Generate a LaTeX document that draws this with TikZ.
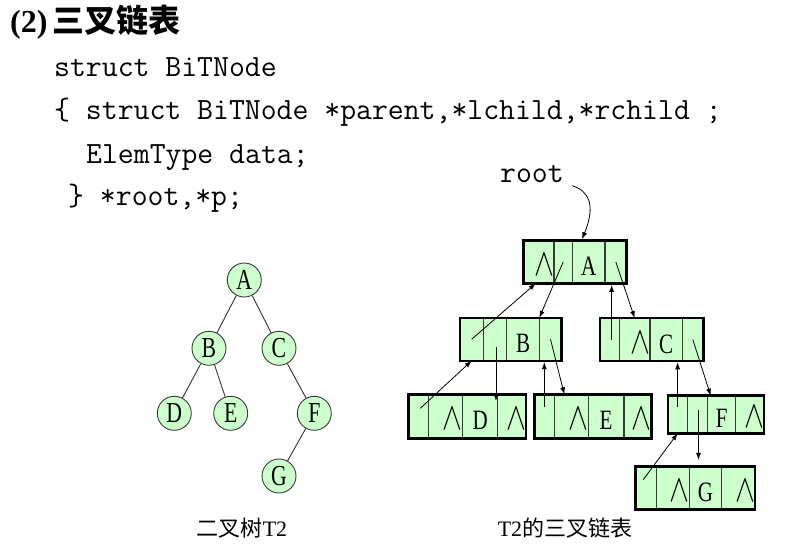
\documentclass[tikz,border=0pt]{standalone}
\usepackage{fontspec}
\usepackage{tikz}
\usetikzlibrary{positioning}
\usetikzlibrary{fit}
\usetikzlibrary{arrows.meta}
\newfontfamily\cjk{Noto Sans CJK SC}
\newfontfamily\serif{Liberation Serif}
\newfontfamily\letterfont[FakeStretch=0.75]{Liberation Serif}
\definecolor{nodegreen}{HTML}{CCFFCC}
\definecolor{divgray}{HTML}{3A3A3A}
\newcommand{\nil}{{\fontsize{24.88}{25}\selectfont\scalebox{1.2}[1.55]{$\wedge$}}}
\tikzset{cell/.style={draw=divgray, line width=1.2pt, fill=nodegreen, inner sep=0, outer sep=0,
    minimum height=43pt, text height=27pt, text depth=0pt, align=center,
    font=\letterfont\fontsize{28}{28}\selectfont}}
\tikzset{cw/.style={minimum width=#1pt, text width=#1pt}}
\tikzset{nil cell/.style={align=right}}
\tikzset{record box/.style={draw, line width=2.6pt, inner sep=0}}
\tikzset{tree node/.style={circle, draw=divgray, line width=0.9pt, fill=nodegreen, minimum size=34pt,
    inner sep=0, font=\letterfont\fontsize{29}{29}\selectfont}}
\tikzset{tree edge/.style={draw=black!80, line width=0.9pt}}
\tikzset{pointer/.style={-{Latex[length=7pt,width=5pt]}, line width=0.8pt}}
\tikzset{code/.style={anchor=base west, inner sep=0, font=\ttfamily\fontsize{30.86}{37}\selectfont}}
\begin{document}
\begin{tikzpicture}[x=1pt, y=-1pt]
  \useasboundingbox (0,0) rectangle (801,550);

  % heading and the struct
  \node[anchor=base west, inner sep=0, font=\fontsize{32}{32}\selectfont] (title) at (10,32)
    {{\serif\bfseries (2)}\hspace{5pt}{\cjk\bfseries\fontsize{32}{32}\selectfont 三叉链表}};
  \node[code] (code1) at (54,76) {struct BiTNode};
  \node[code] (code2) at (54,119.5) {\{ struct BiTNode *parent,*lchild,*rchild ;};
  \node[code] (code3) at (86,163) {ElemType data;};
  \node[code] (code4) at (68,205.5) {\} *root,*p;};

  % binary tree T2
  \node[tree node] (tA) at (244.3,280) {A};
  \node[tree node] (tB) at (209,348.3) {B};
  \node[tree node] (tC) at (279,348.3) {C};
  \node[tree node] (tD) at (174.3,413.3) {D};
  \node[tree node] (tE) at (230.7,413.3) {E};
  \node[tree node] (tF) at (314.3,413.3) {F};
  \node[tree node] (tG) at (279,476) {G};
  \draw[tree edge] (tA) -- (tB);
  \draw[tree edge] (tA) -- (tC);
  \draw[tree edge] (tB) -- (tD);
  \draw[tree edge] (tB) -- (tE);
  \draw[tree edge] (tC) -- (tF);
  \draw[tree edge] (tF) -- (tG);

  % records: parent | lchild | data | rchild
  \node[cell, cw=30.7, nil cell, anchor=west] (Apar) at (523.3,262) {\nil};
  \node[cell, cw=18.3, right=0pt of Apar] (Alc) {};
  \node[cell, cw=32.7, right=0pt of Alc] (Adat) {A};
  \node[cell, cw=21.7, right=0pt of Adat] (Arc) {};
  \node[record box, fit=(Apar)(Arc)] (A) {};

  \node[cell, cw=23.3, anchor=west] (Bpar) at (460,339.3) {};
  \node[cell, cw=23.4, right=0pt of Bpar] (Blc) {};
  \node[cell, cw=32.6, right=0pt of Blc] (Bdat) {B};
  \node[cell, cw=22.4, right=0pt of Bdat] (Brc) {};
  \node[record box, fit=(Bpar)(Brc)] (B) {};

  \node[cell, cw=19.3, anchor=west] (Cpar) at (600,339.5) {};
  \node[cell, cw=30.7, nil cell, right=0pt of Cpar] (Clc) {\nil};
  \node[cell, cw=32.3, right=0pt of Clc] (Cdat) {C};
  \node[cell, cw=21, right=0pt of Cdat] (Crc) {};
  \node[record box, fit=(Cpar)(Crc)] (C) {};

  \node[cell, cw=20, minimum height=44pt, anchor=west] (Dpar) at (408.3,416.3) {};
  \node[cell, cw=34.4, minimum height=44pt, nil cell, right=0pt of Dpar] (Dlc) {\nil};
  \node[cell, cw=35, minimum height=44pt, right=0pt of Dlc] (Ddat) {D};
  \node[cell, cw=28.3, minimum height=44pt, nil cell, right=0pt of Ddat] (Drc) {\nil};
  \node[record box, fit=(Dpar)(Drc)] (D) {};

  \node[cell, cw=20, minimum height=44pt, anchor=west] (Epar) at (534.3,416.3) {};
  \node[cell, cw=34, minimum height=44pt, nil cell, right=0pt of Epar] (Elc) {\nil};
  \node[cell, cw=35.7, minimum height=44pt, right=0pt of Elc] (Edat) {E};
  \node[cell, cw=27.7, minimum height=44pt, nil cell, right=0pt of Edat] (Erc) {\nil};
  \node[record box, fit=(Epar)(Erc)] (E) {};

  \node[cell, cw=19.3, minimum height=37.6pt, text height=25pt, anchor=west] (Fpar) at (668,414.5) {};
  \node[cell, cw=20.4, minimum height=37.6pt, text height=25pt, right=0pt of Fpar] (Flc) {};
  \node[cell, cw=28, minimum height=37.6pt, text height=25pt, right=0pt of Flc] (Fdat) {F};
  \node[cell, cw=28.3, minimum height=37.6pt, text height=25pt, nil cell, right=0pt of Fdat] (Frc) {\nil};
  \node[record box, fit=(Fpar)(Frc)] (F) {};

  \node[cell, cw=21, anchor=west] (Gpar) at (635.7,487.7) {};
  \node[cell, cw=32.6, nil cell, right=0pt of Gpar] (Glc) {\nil};
  \node[cell, cw=32.4, right=0pt of Glc] (Gdat) {G};
  \node[cell, cw=33.3, nil cell, right=0pt of Gdat] (Grc) {\nil};
  \node[record box, fit=(Gpar)(Grc)] (G) {};

  % pointers
  \node[code] (rootlabel) at (500,182.3) {root};
  \draw[pointer] ([shift={(8,3)}]rootlabel.south east) .. controls +(17,5) and +(14,-34) .. ([xshift=7pt]A.north);

  \draw[pointer] (Alc.center) -- (Bdat.north east);
  \draw[pointer] (Bpar.center) -- ([xshift=-3pt]Apar.south);
  \draw[pointer] (Arc.center) -- (Clc.north);
  \draw[pointer] ([xshift=2pt]Cpar.center) -- ([xshift=2pt]Cpar.center |- A.south);

  \draw[pointer] ([shift={(1,8)}]Blc.center) -- ([shift={(1,8)}]Blc.center |- D.north);
  \draw[pointer] ([shift={(2,-8)}]Dpar.center) -- (Bpar.south);
  \draw[pointer] (Brc.center) -- ([xshift=10pt]Elc.north west);
  \draw[pointer] ([shift={(0,-9)}]Epar.center) -- (Epar.center |- B.south);

  \draw[pointer] (Crc.center) -- ([xshift=3pt]Fdat.north west);
  \draw[pointer] ([shift={(0,-8)}]Fpar.center) -- (Fpar.center |- C.south);
  \draw[pointer] ([shift={(1,-5)}]Flc.center) -- ([shift={(1,-5)}]Flc.center |- G.north);
  \draw[pointer] ([shift={(-3,-8)}]Gpar.center) -- (Fpar.south);

  % captions
  \node[font=\fontsize{22}{22}\selectfont] (cap1) at (242,528) {{\cjk 二叉树}{\serif T2}};
  \node[font=\fontsize{22}{22}\selectfont] (cap2) at (565,528) {{\serif T2}{\cjk 的三叉链表}};
\end{tikzpicture}
\end{document}
